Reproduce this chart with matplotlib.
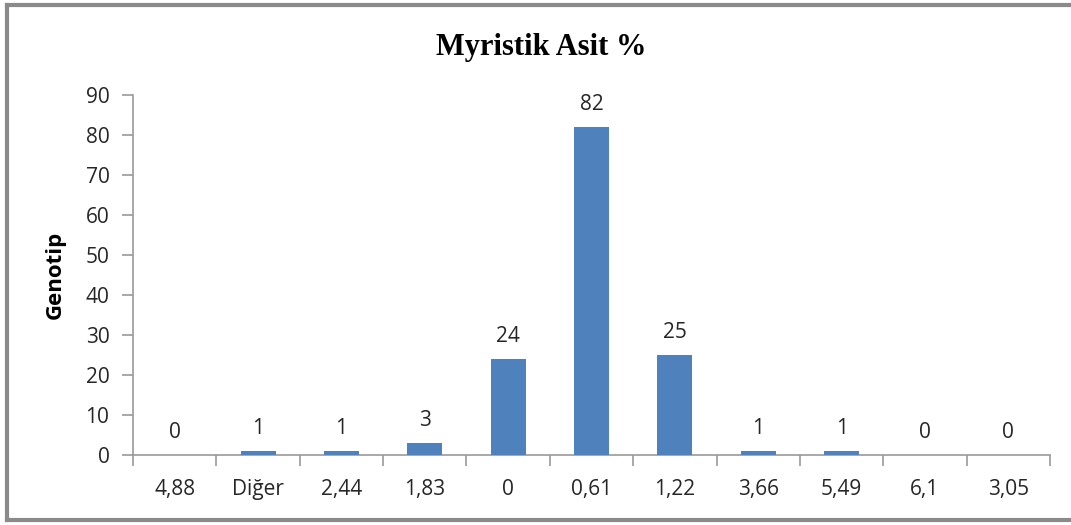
import matplotlib
matplotlib.use("Agg")
import matplotlib.pyplot as plt
from matplotlib.lines import Line2D

categories = ["4,88", "Diğer", "2,44", "1,83", "0", "0,61", "1,22", "3,66", "5,49", "6,1", "3,05"]
values = [0, 1, 1, 3, 24, 82, 25, 1, 1, 0, 0]
yticks = [0, 10, 20, 30, 40, 50, 60, 70, 80, 90]

W, H = 1071, 525
fig = plt.figure(figsize=(W / 100, H / 100), dpi=100)
ax = fig.add_axes([133 / W, 1 - 455 / H, (1050 - 133) / W, (455 - 95) / H])

fs = 15
tc = "#262626"
x = list(range(len(categories)))
ax.bar(x, values, width=0.42, color="#4F81BD", zorder=3)
for xi, v in zip(x, values):
    ax.text(xi, v + 3.0, str(v), ha="center", va="bottom", fontsize=fs,
            family="Open Sans", color=tc)

ax.set_xlim(-0.5, len(categories) - 0.5)
ax.set_ylim(0, 90)
ax.set_yticks(yticks)
ax.set_yticklabels([str(t) for t in yticks], fontsize=fs, family="Open Sans", color=tc)
ax.set_xticks(x)
ax.set_xticklabels(categories, fontsize=fs, family="Open Sans", color=tc)
ax.set_xticks([i - 0.5 for i in range(len(categories) + 1)], minor=True)
ax.tick_params(axis="x", which="major", length=0, pad=17)
ax.tick_params(axis="x", which="minor", length=8, color="#9a9a9a", width=1.2, direction="out")
ax.tick_params(axis="y", length=8, color="#9a9a9a", width=1.2, direction="out", pad=9)

for s in ["top", "right"]:
    ax.spines[s].set_visible(False)
for s in ["left", "bottom"]:
    ax.spines[s].set_color("#9a9a9a")
    ax.spines[s].set_linewidth(1.2)

ax.set_ylabel("Genotip", fontsize=16, fontweight="bold", family="Open Sans", labelpad=14, color="black")
fig.text(541 / W, 1 - 47 / H, "Myristik Asit %", ha="center", va="center",
         fontsize=22, fontweight="bold", family="Liberation Serif")

# outer frame (top, left, bottom)
fc = "#8a8a8a"
fig.add_artist(Line2D([7 / W, 1.0], [1 - 5 / H, 1 - 5 / H], transform=fig.transFigure, color=fc, lw=3))
fig.add_artist(Line2D([7 / W, 7 / W], [1 - 5 / H, 1 - 520 / H], transform=fig.transFigure, color=fc, lw=3))
fig.add_artist(Line2D([7 / W, 1.0], [1 - 520 / H, 1 - 520 / H], transform=fig.transFigure, color=fc, lw=3))

fig.savefig("out.png", dpi=100)
